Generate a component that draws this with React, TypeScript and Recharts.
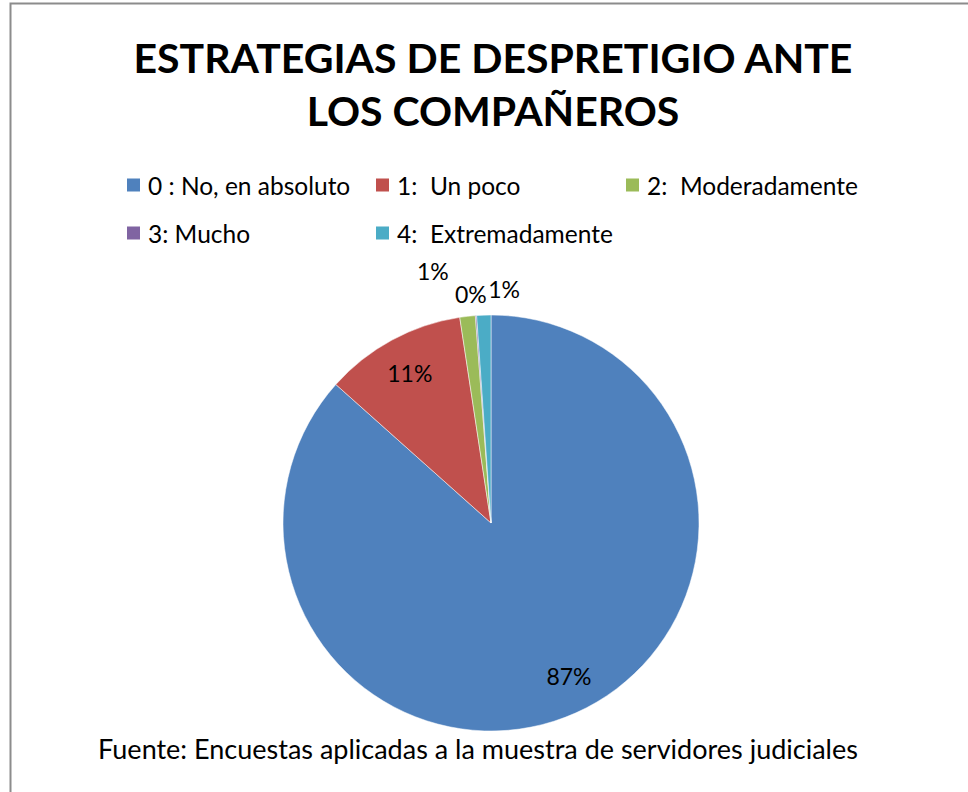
import React from "react";
import { PieChart, Pie, Cell } from "recharts";

const categories = [
  "0 : No, en absoluto",
  "1:  Un poco",
  "2:  Moderadamente",
  "3: Mucho",
  "4:  Extremadamente",
];
const values = [86.6, 11.0, 1.2, 0.1, 1.1];
const colors = ["#4F81BD", "#C0504D", "#9BBB59", "#8064A2", "#4BACC6"];
const titleLines = ["ESTRATEGIAS DE DESPRETIGIO ANTE", "LOS COMPAÑEROS"];
const sourceNote = "Fuente: Encuestas aplicadas a la muestra de servidores judiciales";

const data = categories.map((name, i) => ({ name, value: values[i] }));

// label placement: radius factor and angle nudge (degrees)
const labelPlacement = [
  { rf: 0.825, da: 2.9 },
  { rf: 0.82, da: 0 },
  { rf: 1.245, da: 6.5 },
  { rf: 1.105, da: 0.9 },
  { rf: 1.125, da: -5.2 },
];

const RAD = Math.PI / 180;
const FONT = "Lato, 'Open Sans', sans-serif";

const renderLabel = (props: any) => {
  const { cx, cy, midAngle, outerRadius, percent, index } = props;
  const p = labelPlacement[index];
  const a = (midAngle + p.da) * RAD;
  const r = outerRadius * p.rf;
  const x = cx + r * Math.cos(-a);
  const y = cy + r * Math.sin(-a);
  return (
    <text
      x={x}
      y={y}
      textAnchor="middle"
      dominantBaseline="central"
      fontFamily={FONT}
      fontSize={23}
      fill="#000"
    >
      {Math.round(percent * 100) + "%"}
    </text>
  );
};

const legendCols = [127, 376, 626];
const legendRows = [185, 233];

export default function App() {
  return (
    <div style={{ position: "absolute", left: 0, top: 0, width: 968, height: 792, background: "#fff" }}>
      <PieChart width={968} height={792} margin={{ top: 0, right: 0, bottom: 0, left: 0 }}>
        <rect x={10.5} y={3.5} width={980} height={820} fill="none" stroke="#8c8c8c" strokeWidth={2} />
        {titleLines.map((t, i) => (
          <text
            key={t}
            x={493}
            y={73 + i * 53}
            textAnchor="middle"
            fontFamily={FONT}
            fontWeight="bold"
            fontSize={41}
            fill="#000"
          >
            {t}
          </text>
        ))}
        {categories.map((c, i) => {
          const col = i % 3;
          const row = Math.floor(i / 3);
          const x = legendCols[col];
          const y = legendRows[row];
          return (
            <g key={c}>
              <rect x={x} y={y - 6.5} width={13} height={13} fill={colors[i]} />
              <text
                x={x + 21}
                y={y}
                dominantBaseline="central"
                fontFamily={FONT}
                fontSize={24.5}
                fill="#000"
                style={{ whiteSpace: "pre" }}
              >
                {c}
              </text>
            </g>
          );
        })}
        <Pie
          data={data}
          dataKey="value"
          nameKey="name"
          cx={491}
          cy={523}
          outerRadius={208}
          startAngle={90}
          endAngle={-270}
          label={renderLabel}
          labelLine={false}
          stroke="#ffffff"
          strokeWidth={0.5}
          isAnimationActive={false}
        >
          {data.map((d, i) => (
            <Cell key={d.name} fill={colors[i]} />
          ))}
        </Pie>
        <text
          x={478}
          y={759}
          textAnchor="middle"
          fontFamily={FONT}
          fontSize={27}
          fill="#000"
        >
          {sourceNote}
        </text>
      </PieChart>
    </div>
  );
}
